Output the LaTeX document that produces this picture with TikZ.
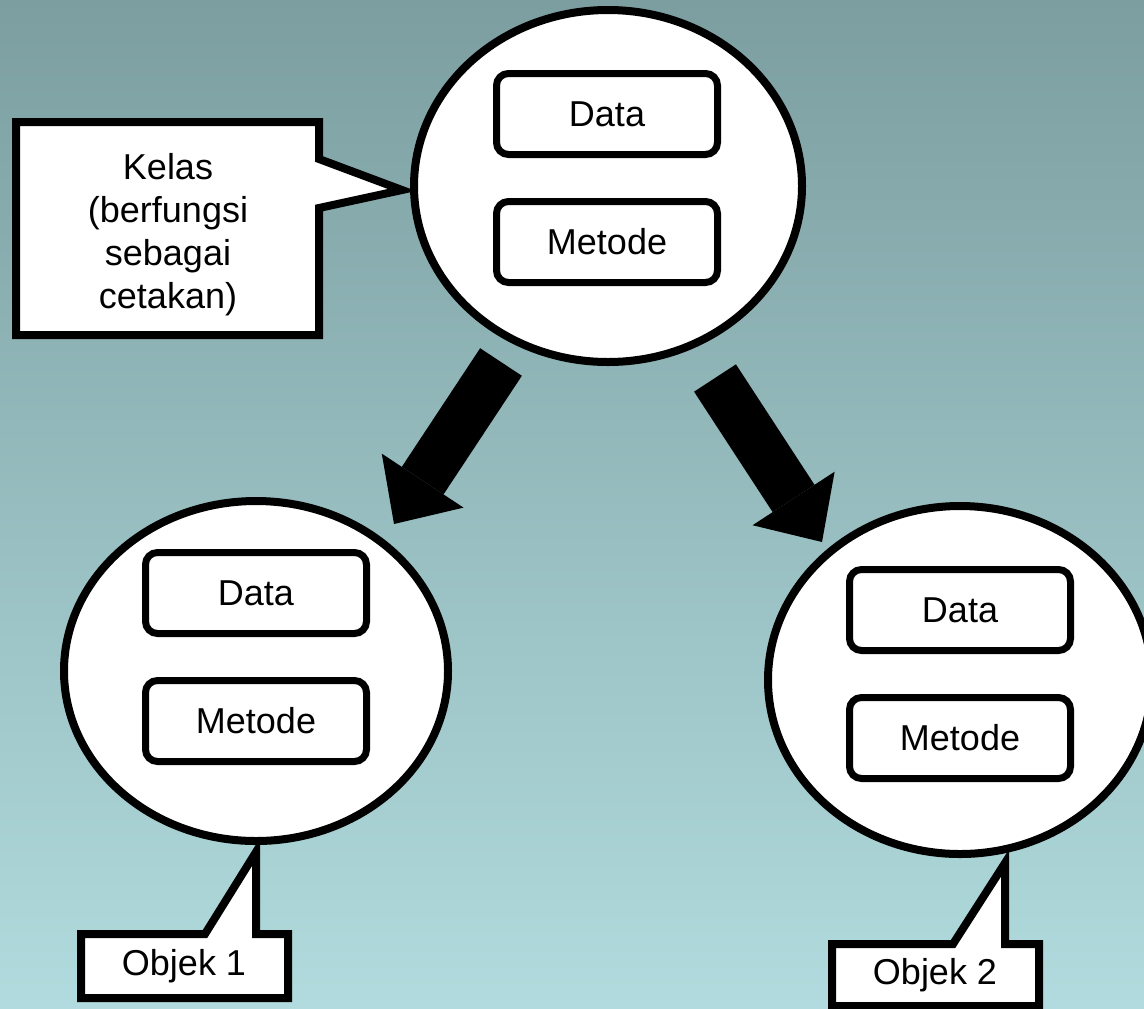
\documentclass[tikz,border=0pt]{standalone}
\usepackage{fontspec}
\setmainfont{Liberation Sans}
\usetikzlibrary{arrows.meta,positioning,shapes.geometric}
\definecolor{bgTop}{RGB}{124,158,160}
\definecolor{bgBot}{RGB}{177,219,222}
\tikzset{
	kelasnode/.style={draw, ellipse, fill=white, line width=4pt, inner sep=0},
	isibox/.style={draw, rounded corners=6pt, fill=white, line width=3.5pt,
		minimum width=110.5pt, minimum height=40.5pt, inner sep=0,
		font=\fontsize{18}{21}\selectfont},
	calloutline/.style={draw, fill=white, line width=4pt, line join=miter},
	callouttext/.style={align=center, inner sep=0, font=\fontsize{18}{21.5}\selectfont},
	fatarrow/.style={line width=25pt, -{Triangle[length=26pt,width=49pt,line width'=0pt]}}
}
\begin{document}
\begin{tikzpicture}[x=0.5pt, y=-0.5pt]
	\useasboundingbox (0,0) rectangle (1144,1008);
	\shade[top color=bgTop, bottom color=bgBot] (0,0) rectangle (1144,1008);

	% callouts (behind the circles)
	\draw[calloutline] (16,122) -- (319,122) -- (319,159) -- (402,190) -- (319,208) -- (319,335) -- (16,335) -- cycle;
	\node[callouttext] (kelas) at (168,235) {Kelas\\(berfungsi\\sebagai\\cetakan)};
	\draw[calloutline] (81,934) -- (205,934) -- (256,852) -- (256,934) -- (288,934) -- (288,998) -- (81,998) -- cycle;
	\node[callouttext] (lbl1) at (184,966) {Objek 1};
	\draw[calloutline] (832,944) -- (953,944) -- (1005,863) -- (1005,944) -- (1039,944) -- (1039,1006) -- (832,1006) -- cycle;
	\node[callouttext] (lbl2) at (935,975) {Objek 2};

	% arrows
	\coordinate (a1s) at (501,362);
	\coordinate (a1e) at (394,524);
	\coordinate (a2s) at (715,378);
	\coordinate (a2e) at (822,542);
	\draw[fatarrow] (a1s) -- (a1e);
	\draw[fatarrow] (a2s) -- (a2e);

	% kelas
	\node[kelasnode, minimum width=194pt, minimum height=176pt] (cls) at (608,186) {};
	\node[isibox] (d0) at (607,114) {Data};
	\node[isibox, below=20pt of d0] (m0) {Metode};

	% objek 1
	\node[kelasnode, minimum width=192pt, minimum height=170pt] (obj1) at (256,671) {};
	\node[isibox] (d1) at (256,593) {Data};
	\node[isibox, below=20pt of d1] (m1) {Metode};

	% objek 2
	\node[kelasnode, minimum width=192pt, minimum height=174pt] (obj2) at (960,680) {};
	\node[isibox] (d2) at (960,610) {Data};
	\node[isibox, below=20pt of d2] (m2) {Metode};
\end{tikzpicture}
\end{document}
